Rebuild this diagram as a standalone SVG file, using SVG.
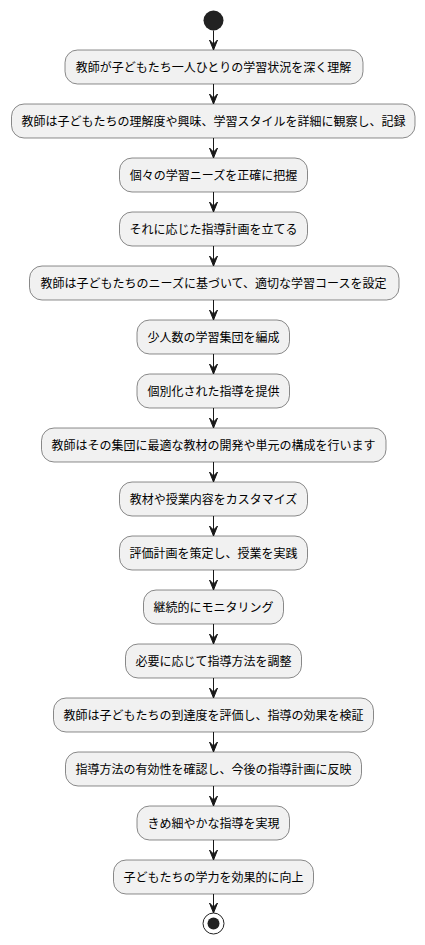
<svg xmlns="http://www.w3.org/2000/svg" width="425" height="945" viewBox="0 0 425 945">
<style>
.box{fill:#F1F1F1;stroke:#181818;stroke-width:0.5}
.t{font-family:"Noto Sans CJK JP","Noto Sans",sans-serif;font-size:12px;fill:#000;text-anchor:middle}
.ln{stroke:#181818;stroke-width:1;fill:none}
.ah{fill:#181818;stroke:#181818;stroke-width:1}
</style>
<rect width="425" height="945" fill="#FFFFFF"/>
<g id="start"><circle cx="213.5" cy="20.5" r="10" fill="#222222"/></g>
<g id="n1"><rect class="box" x="65" y="50" width="298" height="34" rx="12.5"/><text class="t" x="213.5" y="71.5">教師が子どもたち一人ひとりの学習状況を深く理解</text></g>
<g id="n2"><rect class="box" x="11.5" y="104" width="403.5" height="34" rx="12.5"/><text class="t" x="213.5" y="125.5">教師は子どもたちの理解度や興味、学習スタイルを詳細に観察し、記録</text></g>
<g id="n3"><rect class="box" x="119.5" y="158" width="188" height="34" rx="12.5"/><text class="t" x="213.5" y="179.5">個々の学習ニーズを正確に把握</text></g>
<g id="n4"><rect class="box" x="119.5" y="212" width="188" height="34" rx="12.5"/><text class="t" x="213.5" y="233.5">それに応じた指導計画を立てる</text></g>
<g id="n5"><rect class="box" x="29.5" y="266" width="369.5" height="34" rx="12.5"/><text class="t" x="213.5" y="287.5">教師は子どもたちのニーズに基づいて、適切な学習コースを設定</text></g>
<g id="n6"><rect class="box" x="137" y="320" width="152.5" height="34" rx="12.5"/><text class="t" x="213.5" y="341.5">少人数の学習集団を編成</text></g>
<g id="n7"><rect class="box" x="137" y="374" width="152.5" height="34" rx="12.5"/><text class="t" x="213.5" y="395.5">個別化された指導を提供</text></g>
<g id="n8"><rect class="box" x="41.5" y="428" width="344.5" height="34" rx="12.5"/><text class="t" x="213.5" y="449.5">教師はその集団に最適な教材の開発や単元の構成を行います</text></g>
<g id="n9"><rect class="box" x="119.5" y="482" width="188" height="34" rx="12.5"/><text class="t" x="213.5" y="503.5">教材や授業内容をカスタマイズ</text></g>
<g id="n10"><rect class="box" x="119.5" y="536" width="188" height="34" rx="12.5"/><text class="t" x="213.5" y="557.5">評価計画を策定し、授業を実践</text></g>
<g id="n11"><rect class="box" x="143.5" y="590" width="140" height="34" rx="12.5"/><text class="t" x="213.5" y="611.5">継続的にモニタリング</text></g>
<g id="n12"><rect class="box" x="125.5" y="644" width="176" height="34" rx="12.5"/><text class="t" x="213.5" y="665.5">必要に応じて指導方法を調整</text></g>
<g id="n13"><rect class="box" x="53.5" y="698" width="320" height="34" rx="12.5"/><text class="t" x="213.5" y="719.5">教師は子どもたちの到達度を評価し、指導の効果を検証</text></g>
<g id="n14"><rect class="box" x="65.5" y="752" width="296" height="34" rx="12.5"/><text class="t" x="213.5" y="773.5">指導方法の有効性を確認し、今後の指導計画に反映</text></g>
<g id="n15"><rect class="box" x="137" y="806" width="152.5" height="34" rx="12.5"/><text class="t" x="213.5" y="827.5">きめ細やかな指導を実現</text></g>
<g id="n16"><rect class="box" x="113.5" y="860" width="200" height="34" rx="12.5"/><text class="t" x="213.5" y="881.5">子どもたちの学力を効果的に向上</text></g>
<g id="end"><circle cx="213.5" cy="923.5" r="10.5" fill="none" stroke="#222222" stroke-width="1"/><circle cx="213.5" cy="923.5" r="6" fill="#222222"/></g>
<g id="connectors">
<path class="ln" d="M213.5,30.5 V49"/><polygon class="ah" points="209.5,40 213.5,50 217.5,40 213.5,44"/>
<path class="ln" d="M213.5,84 V103"/><polygon class="ah" points="209.5,94 213.5,104 217.5,94 213.5,98"/>
<path class="ln" d="M213.5,138 V157"/><polygon class="ah" points="209.5,148 213.5,158 217.5,148 213.5,152"/>
<path class="ln" d="M213.5,192 V211"/><polygon class="ah" points="209.5,202 213.5,212 217.5,202 213.5,206"/>
<path class="ln" d="M213.5,246 V265"/><polygon class="ah" points="209.5,256 213.5,266 217.5,256 213.5,260"/>
<path class="ln" d="M213.5,300 V319"/><polygon class="ah" points="209.5,310 213.5,320 217.5,310 213.5,314"/>
<path class="ln" d="M213.5,354 V373"/><polygon class="ah" points="209.5,364 213.5,374 217.5,364 213.5,368"/>
<path class="ln" d="M213.5,408 V427"/><polygon class="ah" points="209.5,418 213.5,428 217.5,418 213.5,422"/>
<path class="ln" d="M213.5,462 V481"/><polygon class="ah" points="209.5,472 213.5,482 217.5,472 213.5,476"/>
<path class="ln" d="M213.5,516 V535"/><polygon class="ah" points="209.5,526 213.5,536 217.5,526 213.5,530"/>
<path class="ln" d="M213.5,570 V589"/><polygon class="ah" points="209.5,580 213.5,590 217.5,580 213.5,584"/>
<path class="ln" d="M213.5,624 V643"/><polygon class="ah" points="209.5,634 213.5,644 217.5,634 213.5,638"/>
<path class="ln" d="M213.5,678 V697"/><polygon class="ah" points="209.5,688 213.5,698 217.5,688 213.5,692"/>
<path class="ln" d="M213.5,732 V751"/><polygon class="ah" points="209.5,742 213.5,752 217.5,742 213.5,746"/>
<path class="ln" d="M213.5,786 V805"/><polygon class="ah" points="209.5,796 213.5,806 217.5,796 213.5,800"/>
<path class="ln" d="M213.5,840 V859"/><polygon class="ah" points="209.5,850 213.5,860 217.5,850 213.5,854"/>
<path class="ln" d="M213.5,894 V912"/><polygon class="ah" points="209.5,903 213.5,913 217.5,903 213.5,907"/>
</g>
</svg>
